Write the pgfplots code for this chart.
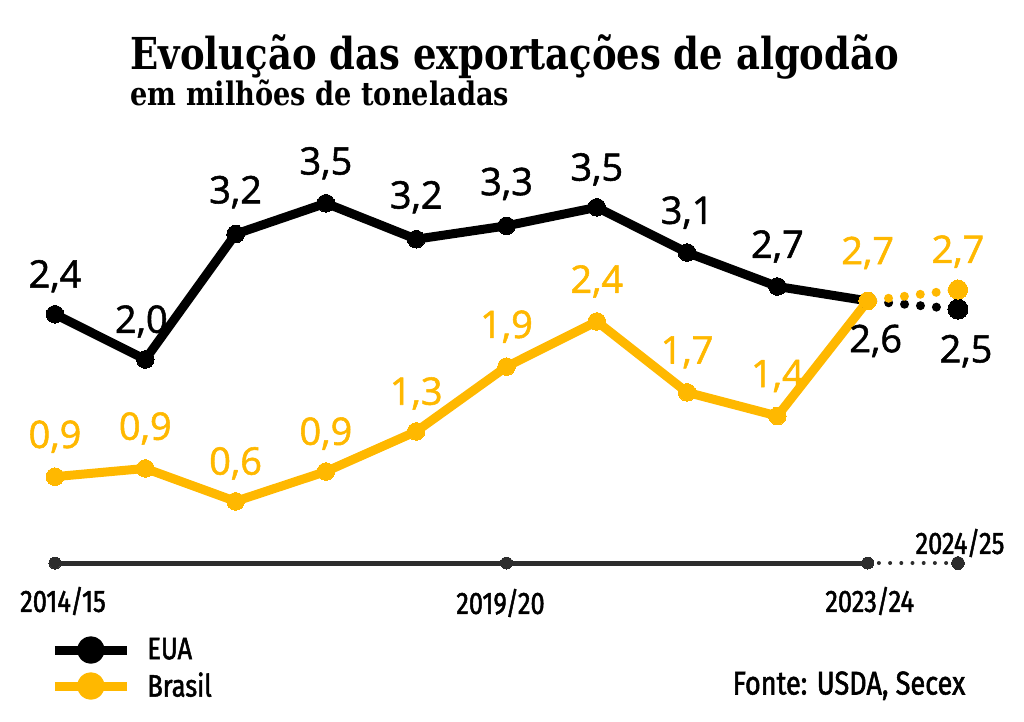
\documentclass[border=0pt]{standalone}
\usepackage{fontspec}
\usepackage{pgfplots}
\usepackage{pgfplotstable}
\pgfplotsset{compat=1.18}
\setmainfont{Open Sans}[FakeBold=1.4]
\newfontfamily\titlefont{DejaVu Serif}[FakeStretch=0.84]
\newfontfamily\condfont{Fira Sans}[FakeStretch=0.82, FakeBold=1.6]
\definecolor{yel}{RGB}{255,184,0}
\definecolor{tl}{RGB}{45,45,45}

% x: indice da safra; dx/dy: deslocamento do rotulo (pt)
\pgfplotstableread{
x y lab dx dy
0 2.42 {2,4} 0 19
1 1.98 {2,0} -2 19
2 3.20 {3,2} 0 21
3 3.50 {3,5} 0 20
4 3.15 {3,2} 0 21
5 3.28 {3,3} 0 21
6 3.46 {3,5} 0 19
7 3.02 {3,1} 0 20
8 2.69 {2,7} 0 20
9 2.55 {2,6} 4 -20
}\eua
\pgfplotstableread{
x y lab dx dy
10 2.47 {2,5} 4 -21
}\euaproj
\pgfplotstableread{
x y lab dx dy
0 0.84 {0,9} 0 20
1 0.92 {0,9} 0 20
2 0.60 {0,6} 0 19
3 0.89 {0,9} 0 19
4 1.28 {1,3} 0 19
5 1.91 {1,9} 0 20
6 2.35 {2,4} 0 20
7 1.66 {1,7} 0 20
8 1.43 {1,4} 0 20
9 2.55 {2,7} 0 24
}\bra
\pgfplotstableread{
x y lab dx dy
10 2.66 {2,7} 0 19
}\braproj
\pgfplotstableread{
x y lab dx dy
0 0 {2014/15} 4 -19
5 0 {2019/20} -3 -20
9 0 {2023/24} 1 -19
}\linha

\begin{document}
\begin{tikzpicture}
\begin{axis}[
  width=512pt, height=360.5pt, scale only axis,
  hide axis, clip=false,
  xmin=-0.609, xmax=10.731, ymin=-1.537, ymax=5.477,
  legend cell align=left,
  legend style={at={(0.0488,0.0735)}, anchor=west, draw=none, fill=none,
    font=\condfont\fontsize{15.5}{17}\selectfont,
    nodes={inner sep=0pt, minimum height=18pt},
    column sep=8pt, inner sep=0pt},
  legend image code/.code={
    \draw[line width=4.5pt, solid] (0pt,0pt) -- (36pt,0pt);
    \fill (18pt,0pt) circle (4.6pt);
  },
  mark options={solid, line width=0pt},
  lab/.style={
    nodes near coords, point meta=explicit symbolic,
    visualization depends on={\thisrow{dx} \as \dx},
    visualization depends on={\thisrow{dy} \as \dy},
    every node near coord/.style={anchor=center, font=\fontsize{19}{21}\selectfont,
      xshift=\dx pt, yshift=\dy pt, inner sep=0pt},
  },
]
\path (rel axis cs:0,0) rectangle (rel axis cs:1,1);
% linha do tempo
\addplot[tl, line width=2.5pt, mark=*, mark size=3pt, forget plot,
  lab, every node near coord/.append style={text=black, font=\condfont\fontsize{15.5}{17}\selectfont}]
  table[x=x, y=y, meta=lab] {\linha};
\addplot[tl, line width=2pt, line cap=round, dash pattern=on 0pt off 5.6pt, forget plot]
  coordinates {(9,0) (10,0)};
\addplot[tl, only marks, mark=*, mark size=3.2pt, forget plot,
  nodes near coords={2024/25}, every node near coord/.style={anchor=center, text=black,
  font=\condfont\fontsize{15.5}{17}\selectfont, xshift=1pt, yshift=10pt, inner sep=0pt}]
  coordinates {(10,0)};

% projecoes 2024/25 (pontilhado)
\addplot[black, line width=4.5pt, line cap=round, dash pattern=on 0pt off 8pt, dash phase=5.5pt, forget plot]
  coordinates {(9,2.55) (10,2.47)};
\addplot[yel, line width=4.5pt, line cap=round, dash pattern=on 0pt off 8pt, dash phase=5.5pt, forget plot]
  coordinates {(9,2.55) (10,2.66)};

% EUA
\addplot[black, line width=4.5pt, line join=round, mark=*, mark size=4.4pt, lab,
  every node near coord/.append style={text=black}]
  table[x=x, y=y, meta=lab] {\eua};
\addlegendentry{EUA}
% Brasil
\addplot[yel, line width=4.5pt, line join=round, mark=*, mark size=4.4pt, lab,
  every node near coord/.append style={text=yel}]
  table[x=x, y=y, meta=lab] {\bra};
\addlegendentry{Brasil}

\addplot[black, only marks, mark=*, mark size=5pt, forget plot, lab,
  every node near coord/.append style={text=black}]
  table[x=x, y=y, meta=lab] {\euaproj};
\addplot[yel, only marks, mark=*, mark size=4.8pt, forget plot, lab,
  every node near coord/.append style={text=yel}]
  table[x=x, y=y, meta=lab] {\braproj};

% titulos
\node[anchor=base west, inner sep=0pt, font=\titlefont\bfseries\fontsize{22}{24}\selectfont]
  at (rel axis cs:0.127,0.903) {Evolução das exportações de algodão};
\node[anchor=base west, inner sep=0pt, font=\titlefont\bfseries\fontsize{16.2}{18}\selectfont]
  at (rel axis cs:0.127,0.854) {em milhões de toneladas};
\node[anchor=east, inner sep=0pt, font=\condfont\fontsize{16.5}{18}\selectfont]
  at (rel axis cs:0.943,0.049) {Fonte: USDA, Secex};
\end{axis}
\end{tikzpicture}
\end{document}
